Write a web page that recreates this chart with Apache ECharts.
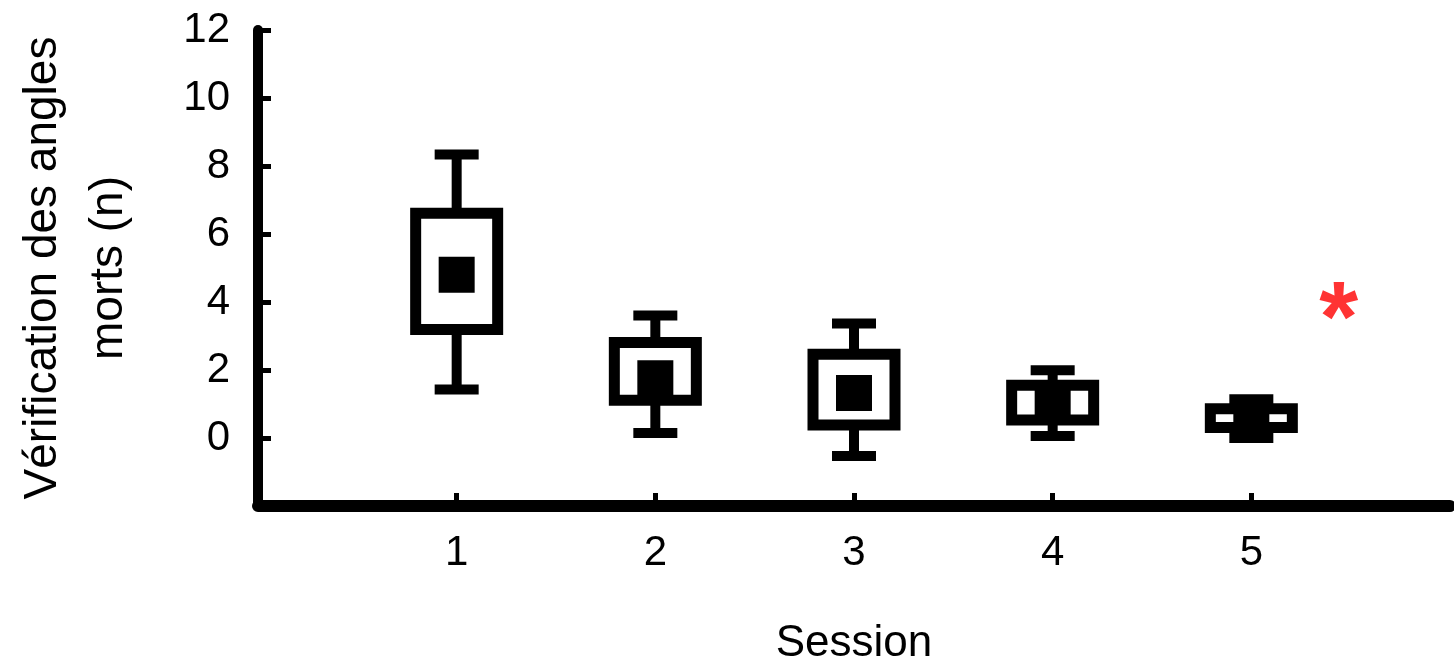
<!DOCTYPE html>
<html>
<head>
<meta charset="utf-8">
<script src="https://cdn.jsdelivr.net/npm/echarts@6/dist/echarts.min.js"></script>
<style>
  html, body { margin: 0; padding: 0; background: #fff; }
  #chart { width: 1454px; height: 664px; }
</style>
</head>
<body>
<div id="chart"></div>
<script>
const sessions = [1, 2, 3, 4, 5]
const whiskerLow = [1.43, 0.15, -0.53, 0.06, 0.0]
const boxLow = [3.19, 1.11, 0.38, 0.53, 0.31]
const boxHigh = [6.61, 2.81, 2.46, 1.55, 0.86]
const whiskerHigh = [8.34, 3.6, 3.37, 1.99, 1.14]
const means = [4.8, 1.76, 1.32, 1.02, 0.55]
const yTicks = [0, 2, 4, 6, 8, 10, 12]
const starX = [5.44]
const starY = [4]

const font = 'Liberation Sans, Arial, sans-serif'

function renderBox(params, api) {
  const x = api.value(0)
  const lo = api.coord([x, api.value(1)])
  const q1 = api.coord([x, api.value(2)])
  const q3 = api.coord([x, api.value(3)])
  const hi = api.coord([x, api.value(4)])
  const mean = api.coord([x, api.value(5)])
  const cx = lo[0]
  const stroke = { stroke: '#000', lineWidth: 10 }
  const capHalf = 22
  const boxHalf = 41
  const sq = 36
  return {
    type: 'group',
    children: [
      { type: 'line', shape: { x1: cx, y1: hi[1], x2: cx, y2: q3[1] }, style: stroke },
      { type: 'line', shape: { x1: cx, y1: q1[1], x2: cx, y2: lo[1] }, style: stroke },
      { type: 'line', shape: { x1: cx - capHalf, y1: hi[1], x2: cx + capHalf, y2: hi[1] }, style: stroke },
      { type: 'line', shape: { x1: cx - capHalf, y1: lo[1], x2: cx + capHalf, y2: lo[1] }, style: stroke },
      {
        type: 'rect',
        shape: { x: cx - boxHalf, y: q3[1], width: boxHalf * 2, height: q1[1] - q3[1] },
        style: { fill: '#fff', stroke: '#000', lineWidth: 11 }
      },
      {
        type: 'rect',
        shape: { x: cx - sq / 2, y: mean[1] - sq / 2, width: sq, height: sq },
        style: { fill: '#000' }
      }
    ]
  }
}

const chart = echarts.init(document.getElementById('chart'), null, { renderer: 'canvas' })

chart.setOption({
  animation: false,
  grid: { left: 258, right: 4, top: 30, bottom: 158, outerBoundsMode: 'none', containLabel: false },
  xAxis: {
    type: 'value',
    min: 0,
    max: 6,
    interval: 1,
    name: 'Session',
    nameLocation: 'middle',
    nameGap: 116,
    nameTextStyle: { fontSize: 44, color: '#000', fontFamily: font },
    splitLine: { show: false },
    axisLine: { onZero: false, lineStyle: { color: '#000', width: 12 } },
    axisTick: { inside: true, length: 13, customValues: sessions, lineStyle: { color: '#000', width: 5 } },
    axisLabel: { customValues: sessions, margin: 26, fontSize: 42, color: '#000', fontFamily: font }
  },
  yAxis: {
    type: 'value',
    min: -2,
    max: 12,
    interval: 2,
    name: 'Vérification des angles\nmorts (n)',
    nameLocation: 'middle',
    nameRotate: 90,
    nameGap: 116,
    nameTextStyle: { fontSize: 46, lineHeight: 66, color: '#000', fontFamily: font, align: 'center' },
    splitLine: { show: false },
    axisLine: { onZero: false, lineStyle: { color: '#000', width: 10 } },
    axisTick: { inside: true, length: 13, customValues: yTicks, lineStyle: { color: '#000', width: 5 } },
    axisLabel: { customValues: yTicks, margin: 28, fontSize: 42, color: '#000', fontFamily: font }
  },
  series: [
    {
      type: 'custom',
      renderItem: renderBox,
      encode: { x: 0, y: [1, 2, 3, 4, 5] },
      data: sessions.map((s, i) => [s, whiskerLow[i], boxLow[i], boxHigh[i], whiskerHigh[i], means[i]])
    },
    {
      type: 'scatter',
      symbolSize: 1,
      itemStyle: { color: 'rgba(0,0,0,0)' },
      label: {
        show: true,
        position: 'inside',
        formatter: '*',
        fontSize: 100,
        fontWeight: 'bold',
        color: '#ff0000',
        fontFamily: font,
        offset: [0, 21]
      },
      data: starX.map((x, i) => [x, starY[i]])
    }
  ]
})
</script>
</body>
</html>
